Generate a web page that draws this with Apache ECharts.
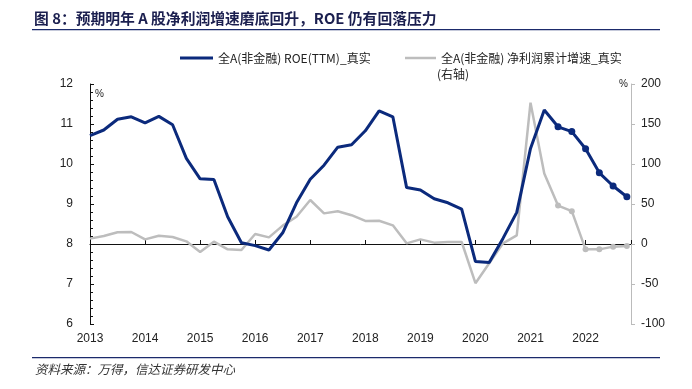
<!DOCTYPE html>
<html>
<head>
<meta charset="utf-8">
<script src="https://cdn.jsdelivr.net/npm/echarts@6/dist/echarts.min.js"></script>
<style>
html,body{margin:0;padding:0;background:#fff;}
#chart{width:692px;height:389px;}
</style>
</head>
<body>
<div id="chart"></div>
<script>
// ---- data ----
var yearLabels = ['2013','2014','2015','2016','2017','2018','2019','2020','2021','2022'];
// quarterly points, 2013Q1 .. 2022Q4 (last 6 are estimates, drawn with markers)
var quarters = [];
for (var y = 2013; y <= 2022; y++) { for (var q = 1; q <= 4; q++) { quarters.push(y + 'Q' + q); } }
var roeTTM = [10.71,10.85,11.12,11.18,11.03,11.19,10.98,10.14,9.63,9.61,
              8.68,8.03,7.96,7.85,8.28,9.03,9.62,9.97,10.42,10.48,
              10.83,11.33,11.18,9.41,9.35,9.13,9.03,8.87,7.56,7.54,
              8.14,8.79,10.39,11.35,10.93,10.81,10.38,9.78,9.45,9.18];
var profitGrowth = [6.7,10,14.6,15,5.8,10.4,8.75,3.3,-10,2.9,
                    -6.7,-7.5,12.5,8.3,23,34,55,38.3,41,36,
                    28.8,29,23.3,0.8,5.8,1.7,2.5,2.5,-49,-24,
                    0.8,10.8,176.7,88,48,41,-6.7,-6.7,-3.3,-2.5];
var markedFrom = 34;
var leftTicks = [6,7,8,9,10,11,12];
var rightTicks = [-100,-50,0,50,100,150,200];
var nameROE = '全A(非金融) ROE(TTM)_真实';
var nameGrowth = '全A(非金融) 净利润累计增速_真实';

// ---- build ----
var NAVY = '#0b2a7c';
var GRAY = '#bdbdbd';
function build(vals, size) {
  return vals.map(function (v, i) {
    return i >= markedFrom
      ? { value: [i, v], symbol: 'circle', symbolSize: size }
      : { value: [i, v], symbol: 'none' };
  });
}
var font = '"Liberation Sans", Arial, sans-serif';
var cjk = '"Noto Sans CJK SC", sans-serif';

var chart = echarts.init(document.getElementById('chart'), null, { renderer: 'canvas' });
chart.setOption({
  animation: false,
  backgroundColor: '#fff',
  grid: { left: 90, right: 61, top: 84, bottom: 65, containLabel: false },
  legend: [
    { data: [nameROE], left: 175, top: 47, icon: 'rect', itemWidth: 33, itemHeight: 3, itemGap: 0,
      textStyle: { fontFamily: cjk, fontSize: 12, color: '#222' } },
    { data: [nameGrowth], left: 400, top: 47, icon: 'rect', itemWidth: 31, itemHeight: 2.5, itemGap: 0,
      textStyle: { fontFamily: cjk, fontSize: 12, color: '#222' } }
  ],
  xAxis: {
    type: 'value', min: 0, max: 39.3, interval: 4,
    axisLine: { lineStyle: { color: '#111', width: 1 } },
    axisTick: { show: true, inside: true, length: 4, lineStyle: { color: '#111' } },
    splitLine: { show: false },
    axisLabel: { fontFamily: font, fontSize: 12, color: '#222', margin: 9,
      formatter: function (v) { return (v % 4 === 0) ? yearLabels[v / 4] : ''; } }
  },
  yAxis: [
    { type: 'value', min: leftTicks[0], max: leftTicks[leftTicks.length - 1], interval: 1, position: 'left',
      axisLine: { show: true, lineStyle: { color: '#111' } },
      axisTick: { show: true, inside: true, length: 4, lineStyle: { color: '#111' } },
      minorTick: { show: true, splitNumber: 5, length: 3, lineStyle: { color: '#111' } },
      splitLine: { show: false },
      axisLabel: { fontFamily: font, fontSize: 12, color: '#222', margin: 17 } },
    { type: 'value', min: rightTicks[0], max: rightTicks[rightTicks.length - 1], interval: 50, position: 'right',
      axisLine: { show: true, lineStyle: { color: '#bbb' } },
      axisTick: { show: true, inside: false, length: 4, lineStyle: { color: '#bbb' } },
      splitLine: { show: false },
      axisLabel: { fontFamily: font, fontSize: 12, color: '#222', margin: 10 } }
  ],
  series: [
    { name: nameGrowth, type: 'line', yAxisIndex: 1, data: build(profitGrowth, 6),
      showSymbol: true, showAllSymbol: true,
      lineStyle: { color: GRAY, width: 2.5 }, itemStyle: { color: GRAY }, z: 2 },
    { name: nameROE, type: 'line', yAxisIndex: 0, data: build(roeTTM, 7),
      showSymbol: true, showAllSymbol: true,
      lineStyle: { color: NAVY, width: 3 }, itemStyle: { color: NAVY }, z: 3 }
  ],
  graphic: [
    { type: 'text', left: 34, top: 11, style: { text: '图 8：预期明年 A 股净利润增速磨底回升，ROE 仍有回落压力',
      font: 'bold 14.8px "Noto Sans CJK SC", sans-serif', fill: '#1b1f4f' } },
    { type: 'rect', shape: { x: 32, y: 29, width: 628, height: 1.2 }, style: { fill: '#1b2a6b' } },
    { type: 'text', left: 437, top: 68, style: { text: '(右轴)', font: '12px "Noto Sans CJK SC", sans-serif', fill: '#222' } },
    { type: 'text', left: 95, top: 89, style: { text: '%', font: '10px "Liberation Sans", Arial, sans-serif', fill: '#222' } },
    { type: 'text', left: 619, top: 79, style: { text: '%', font: '10px "Liberation Sans", Arial, sans-serif', fill: '#222' } },
    { type: 'rect', shape: { x: 32, y: 357, width: 628, height: 1.2 }, style: { fill: '#1b2a6b' } },
    { type: 'text', left: 35, top: 363, style: { text: '资料来源：万得，信达证券研发中心',
      font: 'italic 12.5px "Noto Sans CJK SC", sans-serif', fill: '#333' } }
  ]
});
</script>
</body>
</html>
